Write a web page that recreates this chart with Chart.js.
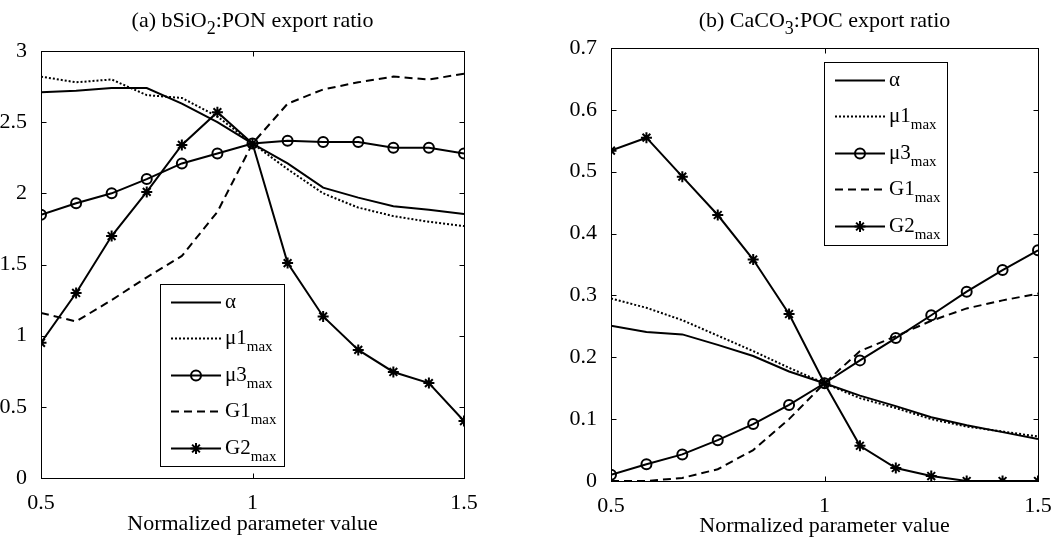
<!DOCTYPE html>
<html>
<head>
<meta charset="utf-8">
<title>Export ratio sensitivity</title>
<script src="https://cdn.jsdelivr.net/npm/chart.js@4.4.0/dist/chart.umd.min.js"></script>
<style>
  body { margin: 0; background: #fff; }
  .panel { position: absolute; top: 0; width: 532px; height: 540px; }
</style>
</head>
<body>
<div class="panel" style="left:0"><canvas id="chartA" width="532" height="540"></canvas></div>
<div class="panel" style="left:532px"><canvas id="chartB" width="532" height="540"></canvas></div>
<script>
// Normalized parameter values (x axis)
const paramValues = [0.5, 0.583, 0.667, 0.75, 0.833, 0.917, 1, 1.083, 1.167, 1.25, 1.333, 1.417, 1.5];

// Series names and their subscripts
const seriesNames = ["α", "μ1", "μ3", "G1", "G2"];
const seriesSubs = ["", "max", "max", "max", "max"];

// (a) bSiO2:PON export ratio
const siAlpha = [2.71, 2.72, 2.74, 2.74, 2.63, 2.50, 2.35, 2.21, 2.04, 1.97, 1.91, 1.885, 1.855];
const siMu1 = [2.82, 2.78, 2.80, 2.69, 2.67, 2.54, 2.35, 2.17, 2.00, 1.90, 1.84, 1.80, 1.77];
const siMu3 = [1.85, 1.93, 2.00, 2.10, 2.21, 2.28, 2.35, 2.37, 2.36, 2.36, 2.32, 2.32, 2.28];
const siG1 = [1.16, 1.10, 1.25, 1.41, 1.56, 1.87, 2.35, 2.63, 2.73, 2.78, 2.82, 2.80, 2.84];
const siG2 = [0.95, 1.30, 1.70, 2.01, 2.34, 2.57, 2.35, 1.51, 1.135, 0.90, 0.745, 0.667, 0.40];

// (b) CaCO3:POC export ratio
const caAlpha = [0.251, 0.241, 0.237, 0.220, 0.202, 0.177, 0.158, 0.138, 0.121, 0.103, 0.090, 0.079, 0.068];
const caMu1 = [0.295, 0.280, 0.260, 0.235, 0.210, 0.183, 0.158, 0.134, 0.118, 0.100, 0.088, 0.080, 0.072];
const caMu3 = [0.010, 0.027, 0.043, 0.066, 0.092, 0.123, 0.158, 0.195, 0.231, 0.268, 0.306, 0.341, 0.373];
const caG1 = [0, 0, 0.005, 0.019, 0.050, 0.100, 0.158, 0.210, 0.234, 0.259, 0.279, 0.292, 0.303];
const caG2 = [0.534, 0.555, 0.492, 0.430, 0.358, 0.270, 0.158, 0.057, 0.021, 0.008, 0, 0, 0];

// Titles, split into normal / subscript pieces
const titleA = [["(a) bSiO", false], ["2", true], [":PON export ratio", false]];
const titleB = [["(b) CaCO", false], ["3", true], [":POC export ratio", false]];

const FONT = "'Liberation Serif', 'Times New Roman', serif";

// Pair x values with y values for a linear x axis
function toPoints(values) {
  return values.map((v, i) => ({ x: paramValues[i], y: v }));
}

// Tick text without trailing zeros (3 not 3.0)
function tickText(value) {
  return String(Math.round(value * 100) / 100);
}

// One dataset per parameter, matlab style lines
function makeDatasets(alpha, mu1, mu3, g1, g2) {
  const base = {
    borderColor: "#000",
    backgroundColor: "rgba(0,0,0,0)",
    borderWidth: 2,
    pointRadius: 0,
    tension: 0,
    fill: false,
  };
  return [
    { ...base, label: "alpha", data: toPoints(alpha) },
    { ...base, label: "mu1", data: toPoints(mu1), borderDash: [2, 2] },
    {
      ...base,
      label: "mu3",
      data: toPoints(mu3),
      pointStyle: "circle",
      pointRadius: 5,
      pointBorderWidth: 2,
      pointBorderColor: "#000",
      pointBackgroundColor: "rgba(0,0,0,0)",
    },
    { ...base, label: "G1", data: toPoints(g1), borderDash: [8, 5] },
    {
      ...base,
      label: "G2",
      data: toPoints(g2),
      pointStyle: "star",
      pointRadius: 5.5,
      pointBorderWidth: 2,
      pointBorderColor: "#000",
    },
  ];
}

// Draws text pieces with lowered, smaller subscripts; returns total width
function drawRich(ctx, parts, x, y, size, subSize, subDrop, measureOnly) {
  let cx = x;
  parts.forEach(([text, sub]) => {
    ctx.font = (sub ? subSize : size) + "px " + FONT;
    if (!measureOnly) ctx.fillText(text, cx, sub ? y + subDrop : y);
    cx += ctx.measureText(text).width;
  });
  return cx - x;
}

// Box, inward ticks, title and legend
const decorPlugin = {
  id: "decor",
  afterDatasetsDraw(chart, args, opts) {
    const ctx = chart.ctx;
    const area = chart.chartArea;
    const xs = chart.scales.x;
    const ys = chart.scales.y;
    const L = Math.round(area.left) + 0.5;
    const R = Math.round(area.right) + 0.5;
    const T = Math.round(area.top) + 0.5;
    const B = Math.round(area.bottom) + 0.5;
    const tick = 5;

    ctx.save();
    ctx.strokeStyle = "#000";
    ctx.lineWidth = 1;
    ctx.setLineDash([]);

    // ticks on all four sides
    ctx.beginPath();
    xs.ticks.forEach((t) => {
      const px = Math.round(xs.getPixelForValue(t.value)) + 0.5;
      ctx.moveTo(px, B);
      ctx.lineTo(px, B - tick);
      ctx.moveTo(px, T);
      ctx.lineTo(px, T + tick);
    });
    ys.ticks.forEach((t) => {
      const py = Math.round(ys.getPixelForValue(t.value)) + 0.5;
      ctx.moveTo(L, py);
      ctx.lineTo(L + tick, py);
      ctx.moveTo(R, py);
      ctx.lineTo(R - tick, py);
    });
    ctx.stroke();
    ctx.strokeRect(L, T, R - L, B - T);

    // title centred over the plot area
    ctx.fillStyle = "#000";
    ctx.textBaseline = "alphabetic";
    ctx.textAlign = "left";
    const tw = drawRich(ctx, opts.title, 0, 0, 22, 18, 7, true);
    drawRich(ctx, opts.title, (area.left + area.right) / 2 - tw / 2, 27, 22, 18, 7, false);

    // legend box
    const lg = opts.legend;
    ctx.fillStyle = "#fff";
    ctx.fillRect(lg.left, lg.top, lg.width, lg.height);
    ctx.strokeRect(lg.left + 0.5, lg.top + 0.5, lg.width, lg.height);

    chart.data.datasets.forEach((ds, i) => {
      const rowY = Math.round(lg.top + 18 + i * 36.4) + 0.5;
      const x0 = lg.left + 11;
      const x1 = lg.left + 61;
      ctx.strokeStyle = "#000";
      ctx.lineWidth = ds.borderWidth;
      ctx.setLineDash(ds.borderDash || []);
      ctx.beginPath();
      ctx.moveTo(x0, rowY);
      ctx.lineTo(x1, rowY);
      ctx.stroke();
      ctx.setLineDash([]);
      if (ds.pointRadius > 0) {
        ctx.fillStyle = "rgba(0,0,0,0)";
        ctx.lineWidth = ds.pointBorderWidth;
        Chart.helpers.drawPoint(
          ctx,
          { pointStyle: ds.pointStyle, radius: ds.pointRadius, borderWidth: ds.pointBorderWidth, rotation: 0 },
          (x0 + x1) / 2,
          rowY
        );
      }
      ctx.fillStyle = "#000";
      ctx.textBaseline = "middle";
      const parts = [[seriesNames[i], false]];
      if (seriesSubs[i]) parts.push([seriesSubs[i], true]);
      drawRich(ctx, parts, lg.left + 65, rowY, 21, 15, 9, false);
    });
    ctx.restore();
  },
};

// Builds one panel; layout numbers pin the plot area
function createPanel(canvasId, datasets, yMax, yStep, title, legend, layout) {
  const ctx = document.getElementById(canvasId).getContext("2d");
  return new Chart(ctx, {
    type: "line",
    data: { datasets: datasets },
    plugins: [decorPlugin],
    options: {
      responsive: false,
      animation: false,
      layout: { padding: { top: layout.top, right: layout.right, left: 0, bottom: 0 } },
      plugins: {
        legend: { display: false },
        tooltip: { enabled: false },
        decor: { title: title, legend: legend },
      },
      scales: {
        x: {
          type: "linear",
          min: 0.5,
          max: 1.5,
          grid: { display: false },
          border: { display: false },
          ticks: {
            stepSize: 0.5,
            color: "#000",
            padding: 4,
            maxRotation: 0,
            font: { family: FONT, size: 22 },
            callback: tickText,
          },
          title: {
            display: true,
            text: "Normalized parameter value",
            color: "#000",
            font: { family: FONT, size: 22 },
            padding: { top: 0, bottom: layout.titlePad },
          },
          afterFit: (scale) => {
            scale.height = layout.xHeight;
          },
        },
        y: {
          min: 0,
          max: yMax,
          grid: { display: false },
          border: { display: false },
          ticks: {
            stepSize: yStep,
            color: "#000",
            padding: 6,
            font: { family: FONT, size: 22 },
            callback: tickText,
          },
          afterFit: (scale) => {
            scale.width = layout.yWidth;
          },
        },
      },
    },
  });
}

document.addEventListener("DOMContentLoaded", function () {
  createPanel(
    "chartA",
    makeDatasets(siAlpha, siMu1, siMu3, siG1, siG2),
    3,
    0.5,
    titleA,
    { left: 160, top: 284, width: 124, height: 182 },
    { top: 51, right: 68, yWidth: 41, xHeight: 62, titlePad: 3 }
  );
  createPanel(
    "chartB",
    makeDatasets(caAlpha, caMu1, caMu3, caG1, caG2),
    0.7,
    0.1,
    titleB,
    { left: 292, top: 62, width: 123, height: 183 },
    { top: 48, right: 26, yWidth: 79, xHeight: 59, titlePad: 1 }
  );
});
</script>
</body>
</html>
